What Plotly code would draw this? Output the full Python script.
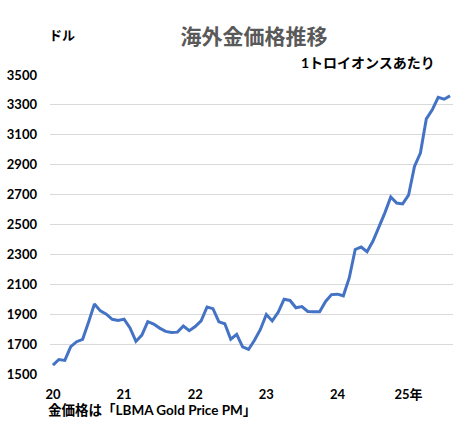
import plotly.graph_objects as go
import pandas as pd

# monthly LBMA gold price (USD / troy oz), Jan 2020 - Aug 2025
months = [d.strftime("%Y-%m") for d in pd.date_range("2020-01-01", "2025-08-01", freq="MS")]
prices = [
    1560, 1597, 1591, 1683, 1716, 1732, 1846, 1968, 1922, 1900, 1866, 1858,
    1867, 1808, 1718, 1760, 1850, 1834, 1807, 1785, 1778, 1780, 1821, 1790,
    1817, 1856, 1948, 1937, 1849, 1836, 1733, 1765, 1681, 1664, 1726, 1798,
    1898, 1855, 1913, 2000, 1992, 1943, 1951, 1918, 1916, 1916, 1985, 2031,
    2034, 2023, 2144, 2333, 2349, 2318, 2389, 2478, 2578, 2684, 2644, 2638,
    2696, 2889, 2978, 3207, 3267, 3351, 3338, 3360,
]
year_ticks = ["2020-01", "2021-01", "2022-01", "2023-01", "2024-01", "2025-01"]
year_labels = ["20", "21", "22", "23", "24", "25年"]
y_ticks = [1500, 1700, 1900, 2100, 2300, 2500, 2700, 2900, 3100, 3300, 3500]

FONT = "Lato, 'Noto Sans CJK JP', sans-serif"
W, H = 470, 434
ML, MR, MT, MB = 50, 17, 75, 60

fig = go.Figure(
    go.Scatter(
        x=months,
        y=prices,
        mode='lines',
        line=dict(color='#4472C4', width=3),
        showlegend=False,
    )
)

fig.update_layout(
    width=W,
    height=H,
    title=dict(
        text="海外金価格推移",
        x=254 / W,
        xanchor='center',
        y=1 - 37 / H,
        yanchor='middle',
        font=dict(size=21, color='#595959', family=FONT, weight='bold'),
    ),
    plot_bgcolor='white',
    paper_bgcolor='white',
    margin=dict(l=ML, r=MR, t=MT, b=MB),
    font=dict(family=FONT, color='#000000'),
    xaxis=dict(
        type='category',
        range=[-0.5, len(months) - 0.5],
        tickvals=year_ticks,
        ticktext=year_labels,
        tickfont=dict(size=13, weight='bold'),
        showgrid=False,
        showline=False,
        zeroline=False,
        ticklabelstandoff=11,
        automargin=False,
    ),
    yaxis=dict(
        range=[1500, 3500],
        tickvals=y_ticks,
        tickfont=dict(size=13, weight='bold'),
        showgrid=True,
        gridcolor='#d9d9d9',
        gridwidth=1,
        zeroline=False,
        showline=False,
        ticklabelstandoff=12,
        automargin=False,
    ),
)

# loose texts, placed by pixel position on the 470x434 canvas
plot_w = W - ML - MR
plot_h = H - MT - MB
def px_to_paper(px, py):
    return (px - ML) / plot_w, (H - MB - py) / plot_h

notes = [
    ("ドル", 47, 35, 'left', 13),
    ("1トロイオンスあたり", 437, 62, 'right', 14),
    ("金価格は「LBMA Gold Price PM」", 46, 410, 'left', 13.5),
]
for text, px, py, anchor, size in notes:
    ax, ay = px_to_paper(px, py)
    fig.add_annotation(text=text, x=ax, y=ay, xref='paper', yref='paper',
                       xanchor=anchor, yanchor='middle', showarrow=False,
                       font=dict(size=size, weight='bold'))

fig.write_html("out.html", config={'displayModeBar': False},
               post_script="document.body.style.margin='0';")
